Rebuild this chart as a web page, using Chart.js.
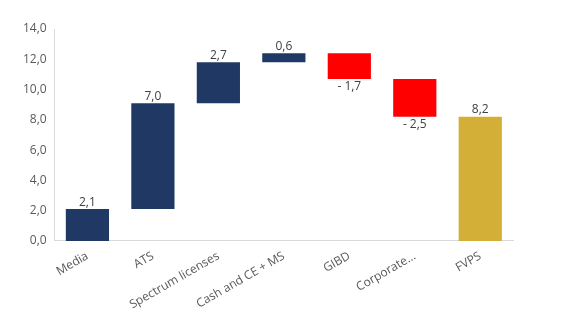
<!DOCTYPE html>
<html>
<head>
<meta charset="utf-8">
<script src="https://cdn.jsdelivr.net/npm/chart.js@4"></script>
<style>
  html, body { margin: 0; padding: 0; background: #fff; }
  #wrap { width: 561px; height: 325px; }
</style>
</head>
<body>
<div id="wrap"><canvas id="waterfall"></canvas></div>
<script>
var categories = ["Media", "ATS", "Spectrum licenses", "Cash and CE + MS", "GIBD", "Corporate...", "FVPS"];
var changes = [2.1, 7.0, 2.7, 0.6, -1.7, -2.5, 8.2];
var isTotal = [false, false, false, false, false, false, true];
var yTicks = [0, 2, 4, 6, 8, 10, 12, 14];

// floating bars [from, to]
var ranges = [];
var running = 0;
for (var i = 0; i < changes.length; i++) {
  if (isTotal[i]) {
    ranges.push([0, changes[i]]);
  } else {
    ranges.push([running, running + changes[i]]);
    running += changes[i];
  }
}

var barColors = changes.map(function (v, i) {
  if (isTotal[i]) return "#D4AF37";
  return v < 0 ? "#FF0000" : "#1F3864";
});

function fmt(v) {
  var s = Math.abs(v).toFixed(1).replace(".", ",");
  return v < 0 ? "- " + s : s;
}

var labelPlugin = {
  id: "barLabels",
  afterDatasetsDraw: function (chart) {
    var ctx = chart.ctx;
    var meta = chart.getDatasetMeta(0);
    ctx.save();
    ctx.font = "12px 'Open Sans', sans-serif";
    ctx.fillStyle = "#404040";
    ctx.textAlign = "center";
    meta.data.forEach(function (bar, i) {
      var v = changes[i];
      var top = Math.min(bar.y, bar.base);
      var bottom = Math.max(bar.y, bar.base);
      if (v < 0) {
        ctx.textBaseline = "top";
        ctx.fillText(fmt(v), bar.x, bottom + 2);
      } else {
        ctx.textBaseline = "bottom";
        ctx.fillText(fmt(v), bar.x, top - 1);
      }
    });
    ctx.restore();
  }
};

var ctxW = document.getElementById("waterfall").getContext("2d");
var myChart = new Chart(ctxW, {
  type: "bar",
  data: {
    labels: categories,
    datasets: [
      {
        data: ranges,
        backgroundColor: barColors,
        borderWidth: 0,
        categoryPercentage: 1.0,
        barPercentage: 0.66
      }
    ]
  },
  options: {
    responsive: true,
    maintainAspectRatio: false,
    animation: false,
    layout: { padding: { top: 29, right: 48, left: 15, bottom: 5 } },
    plugins: {
      legend: { display: false },
      tooltip: { enabled: false }
    },
    scales: {
      x: {
        grid: { display: false, drawTicks: false },
        border: { display: true, color: "#D9D9D9", width: 1 },
        ticks: {
          color: "#595959",
          font: { family: "'Open Sans', sans-serif", size: 12 },
          maxRotation: 30,
          minRotation: 30,
          padding: 8
        }
      },
      y: {
        min: 0,
        max: 14,
        afterBuildTicks: function (axis) {
          axis.ticks = yTicks.map(function (v) { return { value: v }; });
        },
        grid: { display: false, drawTicks: false },
        border: { display: true, color: "#D9D9D9", width: 1 },
        ticks: {
          color: "#595959",
          font: { family: "'Open Sans', sans-serif", size: 12 },
          padding: 8,
          callback: function (v) { return v.toFixed(1).replace(".", ","); }
        }
      }
    }
  },
  plugins: [labelPlugin]
});
</script>
</body>
</html>
